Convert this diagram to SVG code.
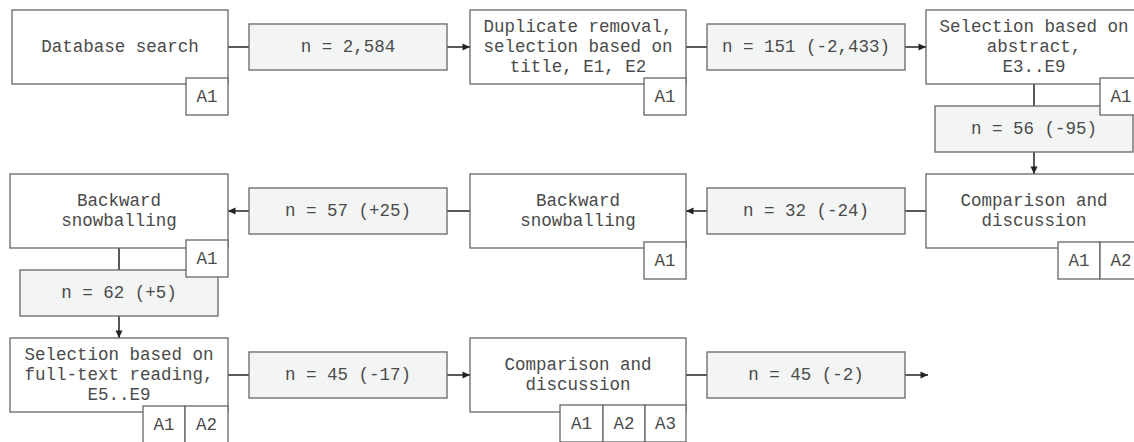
<svg xmlns="http://www.w3.org/2000/svg" width="1134" height="442" viewBox="0 0 1134 442">
<style>
.box{fill:#ffffff;stroke:#666666;stroke-width:1.3}
.nbox{fill:#f3f5f4;stroke:#666666;stroke-width:1.3}
.tag{fill:#ffffff;stroke:#666666;stroke-width:1.3}
text{font-family:"Liberation Mono","Courier New",monospace;font-size:17.5px;fill:#4a4a4a;text-anchor:middle;dominant-baseline:central}
.conn{stroke:#222222;stroke-width:1.5;fill:none}
</style>
<defs>
<marker id="arr" markerWidth="10" markerHeight="10" refX="9" refY="5" orient="auto" markerUnits="userSpaceOnUse">
<path d="M1.5,1.5 L9,5 L1.5,8.5 Z" fill="#222222"/>
</marker>
</defs>
<rect width="1134" height="442" fill="#ffffff"/>
<g id="connectors">
<line class="conn" x1="228" y1="47" x2="249" y2="47"/>
<line class="conn" x1="447" y1="47" x2="470" y2="47" marker-end="url(#arr)"/>
<line class="conn" x1="686" y1="47" x2="707" y2="47"/>
<line class="conn" x1="905" y1="47" x2="926" y2="47" marker-end="url(#arr)"/>
<line class="conn" x1="1034" y1="84" x2="1034" y2="106"/>
<line class="conn" x1="1034" y1="152" x2="1034" y2="174" marker-end="url(#arr)"/>
<line class="conn" x1="926" y1="211" x2="905" y2="211"/>
<line class="conn" x1="707" y1="211" x2="686" y2="211" marker-end="url(#arr)"/>
<line class="conn" x1="470" y1="211" x2="447" y2="211"/>
<line class="conn" x1="249" y1="211" x2="228" y2="211" marker-end="url(#arr)"/>
<line class="conn" x1="119" y1="248" x2="119" y2="270"/>
<line class="conn" x1="119" y1="316" x2="119" y2="338" marker-end="url(#arr)"/>
<line class="conn" x1="228" y1="375" x2="249" y2="375"/>
<line class="conn" x1="447" y1="375" x2="470" y2="375" marker-end="url(#arr)"/>
<line class="conn" x1="686" y1="375" x2="707" y2="375"/>
<line class="conn" x1="905" y1="375" x2="928" y2="375" marker-end="url(#arr)"/>
</g>
<g id="n-db-search">
<rect class="box" x="12" y="10" width="216" height="74"/>
<text x="120" y="47">Database search</text>
<rect class="tag" x="186" y="78" width="42" height="37"/>
<text x="207" y="96.5">A1</text>
</g>
<g id="c-2584">
<rect class="nbox" x="249" y="24" width="198" height="46"/>
<text x="348" y="47">n = 2,584</text>
</g>
<g id="n-duplicate">
<rect class="box" x="470" y="10" width="216" height="74"/>
<text x="578" y="27">Duplicate removal,</text>
<text x="578" y="47">selection based on</text>
<text x="578" y="67">title, E1, E2</text>
<rect class="tag" x="644" y="78" width="42" height="37"/>
<text x="665" y="96.5">A1</text>
</g>
<g id="c-151">
<rect class="nbox" x="707" y="24" width="198" height="46"/>
<text x="806" y="47">n = 151 (-2,433)</text>
</g>
<g id="c-56">
<rect class="nbox" x="935" y="106" width="198" height="46"/>
<text x="1034" y="129">n = 56 (-95)</text>
</g>
<g id="n-abstract">
<rect class="box" x="926" y="10" width="216" height="74"/>
<text x="1034" y="27">Selection based on</text>
<text x="1034" y="47">abstract,</text>
<text x="1034" y="67">E3..E9</text>
<rect class="tag" x="1100" y="78" width="42" height="37"/>
<text x="1121" y="96.5">A1</text>
</g>
<g id="n-comparison1">
<rect class="box" x="926" y="174" width="216" height="74"/>
<text x="1034" y="201">Comparison and</text>
<text x="1034" y="221">discussion</text>
<rect class="tag" x="1058" y="242" width="42" height="37"/>
<text x="1079" y="260.5">A1</text>
<rect class="tag" x="1100" y="242" width="42" height="37"/>
<text x="1121" y="260.5">A2</text>
</g>
<g id="c-32">
<rect class="nbox" x="707" y="188" width="198" height="46"/>
<text x="806" y="211">n = 32 (-24)</text>
</g>
<g id="n-backward1">
<rect class="box" x="470" y="174" width="216" height="74"/>
<text x="578" y="201">Backward</text>
<text x="578" y="221">snowballing</text>
<rect class="tag" x="644" y="242" width="42" height="37"/>
<text x="665" y="260.5">A1</text>
</g>
<g id="c-57">
<rect class="nbox" x="249" y="188" width="198" height="46"/>
<text x="348" y="211">n = 57 (+25)</text>
</g>
<g id="c-62">
<rect class="nbox" x="20" y="270" width="198" height="46"/>
<text x="119" y="293">n = 62 (+5)</text>
</g>
<g id="n-backward2">
<rect class="box" x="10" y="174" width="218" height="74"/>
<text x="119" y="201">Backward</text>
<text x="119" y="221">snowballing</text>
<rect class="tag" x="186" y="240" width="42" height="37"/>
<text x="207" y="258.5">A1</text>
</g>
<g id="n-fulltext">
<rect class="box" x="10" y="338" width="218" height="74"/>
<text x="119" y="355">Selection based on</text>
<text x="119" y="375">full-text reading,</text>
<text x="119" y="395">E5..E9</text>
<rect class="tag" x="143" y="406" width="42" height="37"/>
<text x="164" y="424.5">A1</text>
<rect class="tag" x="185" y="406" width="43" height="37"/>
<text x="206.5" y="424.5">A2</text>
</g>
<g id="c-45a">
<rect class="nbox" x="249" y="352" width="198" height="46"/>
<text x="348" y="375">n = 45 (-17)</text>
</g>
<g id="n-comparison2">
<rect class="box" x="470" y="338" width="216" height="74"/>
<text x="578" y="365">Comparison and</text>
<text x="578" y="385">discussion</text>
<rect class="tag" x="560" y="405" width="43" height="37"/>
<text x="581.5" y="423.5">A1</text>
<rect class="tag" x="603" y="405" width="42" height="37"/>
<text x="624" y="423.5">A2</text>
<rect class="tag" x="645" y="405" width="41" height="37"/>
<text x="665.5" y="423.5">A3</text>
</g>
<g id="c-45b">
<rect class="nbox" x="707" y="352" width="198" height="46"/>
<text x="806" y="375">n = 45 (-2)</text>
</g>
</svg>
